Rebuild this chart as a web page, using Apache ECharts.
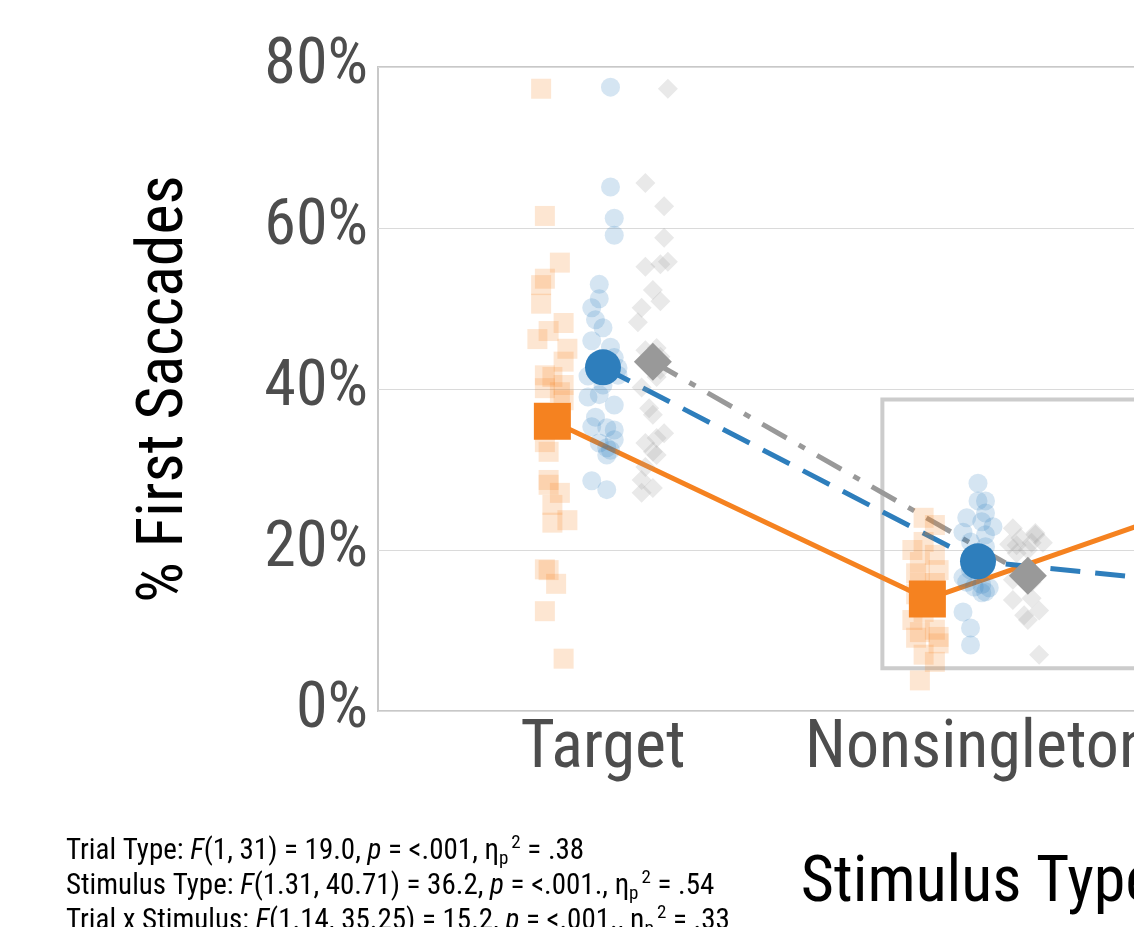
<!DOCTYPE html>
<html><head><meta charset="utf-8">
<script src="https://cdn.jsdelivr.net/npm/echarts@6/dist/echarts.min.js"></script>
<style>html,body{margin:0;padding:0;overflow:hidden;background:#fff;width:1134px;height:927px}
#c{width:1700px;height:927px}</style></head><body><div id="c"></div>
<script>
const FONT = "'Roboto Condensed','Liberation Sans Narrow','DejaVu Sans Condensed',Roboto,sans-serif";

// ---- data ----
const categories = ['Target', 'Nonsingleton', 'Singleton'];
const yTicks = [0, 20, 40, 60, 80];
const seriesNames = ['Orange condition', 'Blue condition', 'Gray condition'];

// condition means per stimulus type (%)
const meanOrange = [36.0, 13.9, 30.1];
const meanBlue = [42.7, 18.6, 13.9];
const meanGray = [43.4, 16.8];

// individual participants: [jitter, value %]
const targetOrange = [[-0.03,77.3],[-0.02,61.5],[0.02,55.7],[-0.02,53.7],[-0.03,52.9],[-0.03,50.6],[0.03,48.2],[-0.01,47.2],[-0.04,46.2],[0.04,45.0],[0.03,43.4],[-0.02,41.7],[0.00,41.5],[0.03,40.5],[-0.02,40.1],[0.02,39.6],[0.03,38.6],[-0.01,36.5],[0.01,35.5],[-0.02,33.4],[-0.01,32.2],[-0.01,28.7],[-0.01,28.1],[0.02,27.1],[0.00,25.6],[0.00,23.4],[0.04,23.7],[-0.02,17.6],[-0.01,17.5],[0.01,15.8],[-0.02,12.4],[0.03,6.5]];
const targetBlue = [[0.02,77.5],[0.02,65.1],[0.03,61.2],[0.03,59.1],[-0.01,53.0],[-0.01,51.2],[-0.03,50.1],[-0.02,48.6],[0.00,47.6],[-0.03,46.0],[0.02,45.2],[0.03,43.9],[0.04,42.6],[-0.04,41.6],[0.04,41.7],[-0.04,39.0],[-0.01,39.3],[0.03,38.0],[-0.02,36.5],[-0.03,35.3],[0.01,35.2],[0.03,34.9],[-0.01,33.3],[0.03,33.7],[0.01,32.7],[0.01,31.8],[0.02,32.4],[-0.03,28.6],[0.01,27.5],[-0.01,43.0],[0.01,42.0],[0.00,40.5]];
const targetGray = [[0.04,77.3],[-0.02,65.6],[0.03,62.7],[0.03,58.8],[-0.02,55.2],[0.02,55.5],[0.04,55.8],[0.00,52.3],[0.02,50.9],[-0.03,50.1],[-0.04,48.3],[-0.02,44.8],[0.01,45.1],[0.02,42.4],[0.01,41.5],[-0.03,40.2],[-0.01,37.6],[0.00,36.8],[0.03,34.5],[0.01,33.9],[-0.02,33.3],[0.00,32.2],[0.01,31.8],[-0.02,30.3],[-0.03,28.7],[0.00,27.7],[-0.03,27.1],[-0.01,43.5],[0.02,44.0]];
const nonsingOrange = [[-0.01,24.0],[0.02,23.1],[-0.01,21.0],[-0.04,20.0],[0.02,19.4],[-0.02,18.5],[-0.03,17.1],[0.03,17.5],[-0.02,16.0],[0.02,15.9],[-0.03,14.5],[0.02,13.2],[-0.01,12.3],[-0.04,11.3],[-0.02,9.8],[0.02,10.1],[0.03,9.2],[-0.03,9.1],[0.03,8.4],[-0.01,7.0],[0.02,6.1],[-0.02,3.8]];
const nonsingBlue = [[0.00,28.3],[0.00,26.1],[0.02,26.1],[-0.03,24.0],[0.02,24.6],[0.04,22.9],[0.01,23.5],[-0.04,22.2],[0.02,21.9],[-0.02,21.0],[0.02,20.4],[-0.01,19.5],[0.02,18.0],[-0.02,17.5],[-0.04,16.6],[-0.03,16.0],[-0.01,15.4],[0.01,15.7],[0.03,15.3],[0.01,14.7],[0.02,14.8],[-0.04,12.3],[-0.02,10.3],[-0.02,8.2]];
const nonsingGray = [[-0.04,22.7],[0.02,22.1],[-0.02,21.5],[0.02,21.9],[-0.03,20.6],[0.01,20.9],[0.04,20.9],[0.00,20.0],[-0.03,19.6],[-0.05,20.7],[-0.01,17.5],[0.01,16.0],[-0.04,16.3],[0.01,14.0],[-0.04,13.8],[0.03,12.5],[-0.01,11.9],[0.00,11.3],[0.03,7.0]];

// highlighted region [x from, x to] (stimulus position), [y from, y to] (%)
const boxX = [1.745, 3.255];
const boxY = [5.3, 38.7];

const statLines = [
  'Trial Type: {i|F}(1, 31) = 19.0, {i|p} = <.001, η{sub|p}{sup|2} = .38',
  'Stimulus Type: {i|F}(1.31, 40.71) = 36.2, {i|p} = <.001., η{sub|p}{sup|2} = .54',
  'Trial x Stimulus: {i|F}(1.14, 35.25) = 15.2, {i|p} = <.001., η{sub|p}{sup|2} = .33'
];

// ---- layout ----
const offsets = [-0.135, 0, 0.133];
const colors = ['#f58220', '#2e7ebc', '#999999'];

function pts(list, cat, g) { return list.map(d => [cat + 1 + offsets[g] + d[0], d[1]]); }
function meanPts(arr, g) { return arr.map((v, i) => [i + 1 + offsets[g], v]); }

const chart = echarts.init(document.getElementById('c'));
const small = { silent: true, emphasis: { disabled: true }, z: 3 };
const option = {
  animation: false,
  textStyle: { fontFamily: FONT },
  grid: { left: 378, top: 67, width: 1200, height: 644, show: true, borderColor: '#c8c8c8', borderWidth: 2 },
  xAxis: {
    type: 'value', min: 0.4, max: 3.6,
    name: 'Stimulus Type', nameLocation: 'middle', nameGap: 142,
    nameTextStyle: { fontSize: 64, color: '#000', fontFamily: FONT },
    axisLine: { show: false }, axisTick: { show: false }, splitLine: { show: false },
    axisLabel: { customValues: [1, 2, 3], formatter: v => categories[Math.round(v) - 1] || '',
      fontSize: 66, color: '#4d4d4d', margin: 6, fontFamily: FONT }
  },
  yAxis: {
    type: 'value', min: 0, max: 80, interval: 20,
    name: '% First Saccades', nameLocation: 'middle', nameGap: 180, nameRotate: 90,
    nameTextStyle: { fontSize: 64, color: '#000', fontFamily: FONT },
    axisLine: { show: false }, axisTick: { show: false },
    splitLine: { lineStyle: { color: '#dadada', width: 1 } },
    axisLabel: { formatter: '{value}%', fontSize: 64, color: '#4d4d4d', margin: 10, fontFamily: FONT }
  },
  series: [
    { name: seriesNames[0], type: 'line', data: meanPts(meanOrange, 0), symbol: 'none', z: 2, silent: true,
      lineStyle: { color: colors[0], width: 5, type: 'solid' },
      markArea: { silent: true, itemStyle: { color: 'rgba(0,0,0,0)', borderColor: '#cccccc', borderWidth: 4 },
        data: [[{ coord: [boxX[0], boxY[1]] }, { coord: [boxX[1], boxY[0]] }]] } },
    { name: seriesNames[1], type: 'line', data: meanPts(meanBlue, 1), symbol: 'none', z: 2, silent: true,
      lineStyle: { color: colors[1], width: 5, type: [30, 15] } },
    { name: seriesNames[2], type: 'line', data: meanPts(meanGray, 2), symbol: 'none', z: 2, silent: true,
      lineStyle: { color: colors[2], width: 5, type: [28, 14, 7, 14] } },
    Object.assign({ type: 'scatter', name: seriesNames[0], symbol: 'rect', symbolSize: 20,
      itemStyle: { color: colors[0], opacity: 0.2 }, data: pts(targetOrange, 0, 0).concat(pts(nonsingOrange, 1, 0)) }, small),
    Object.assign({ type: 'scatter', name: seriesNames[1], symbol: 'circle', symbolSize: 19,
      itemStyle: { color: colors[1], opacity: 0.2 }, data: pts(targetBlue, 0, 1).concat(pts(nonsingBlue, 1, 1)) }, small),
    Object.assign({ type: 'scatter', name: seriesNames[2], symbol: 'diamond', symbolSize: 20,
      itemStyle: { color: colors[2], opacity: 0.22 }, data: pts(targetGray, 0, 2).concat(pts(nonsingGray, 1, 2)) }, small),
    { type: 'scatter', name: seriesNames[0], symbol: 'rect', symbolSize: 37, z: 5, silent: true,
      itemStyle: { color: colors[0], opacity: 1 }, data: meanPts(meanOrange, 0) },
    { type: 'scatter', name: seriesNames[1], symbol: 'circle', symbolSize: 36, z: 5, silent: true,
      itemStyle: { color: colors[1], opacity: 1 }, data: meanPts(meanBlue, 1) },
    { type: 'scatter', name: seriesNames[2], symbol: 'diamond', symbolSize: 38, z: 5, silent: true,
      itemStyle: { color: colors[2], opacity: 1 }, data: meanPts(meanGray, 2) }
  ],
  graphic: [{
    type: 'text', left: 66, top: 834, silent: true,
    style: {
      text: statLines.join('\n'), fontSize: 29, lineHeight: 35, fill: '#000', fontFamily: FONT,
      rich: {
        i: { fontStyle: 'italic', fontSize: 29, fontFamily: FONT, fill: '#000' },
        sub: { fontSize: 19, verticalAlign: 'bottom', lineHeight: 18, fontFamily: FONT, fill: '#000' },
        sup: { fontSize: 19, verticalAlign: 'top', lineHeight: 18, fontFamily: FONT, fill: '#000', padding: [0, 0, 0, 3] }
      }
    }
  }]
};
chart.setOption(option);
</script></body></html>
